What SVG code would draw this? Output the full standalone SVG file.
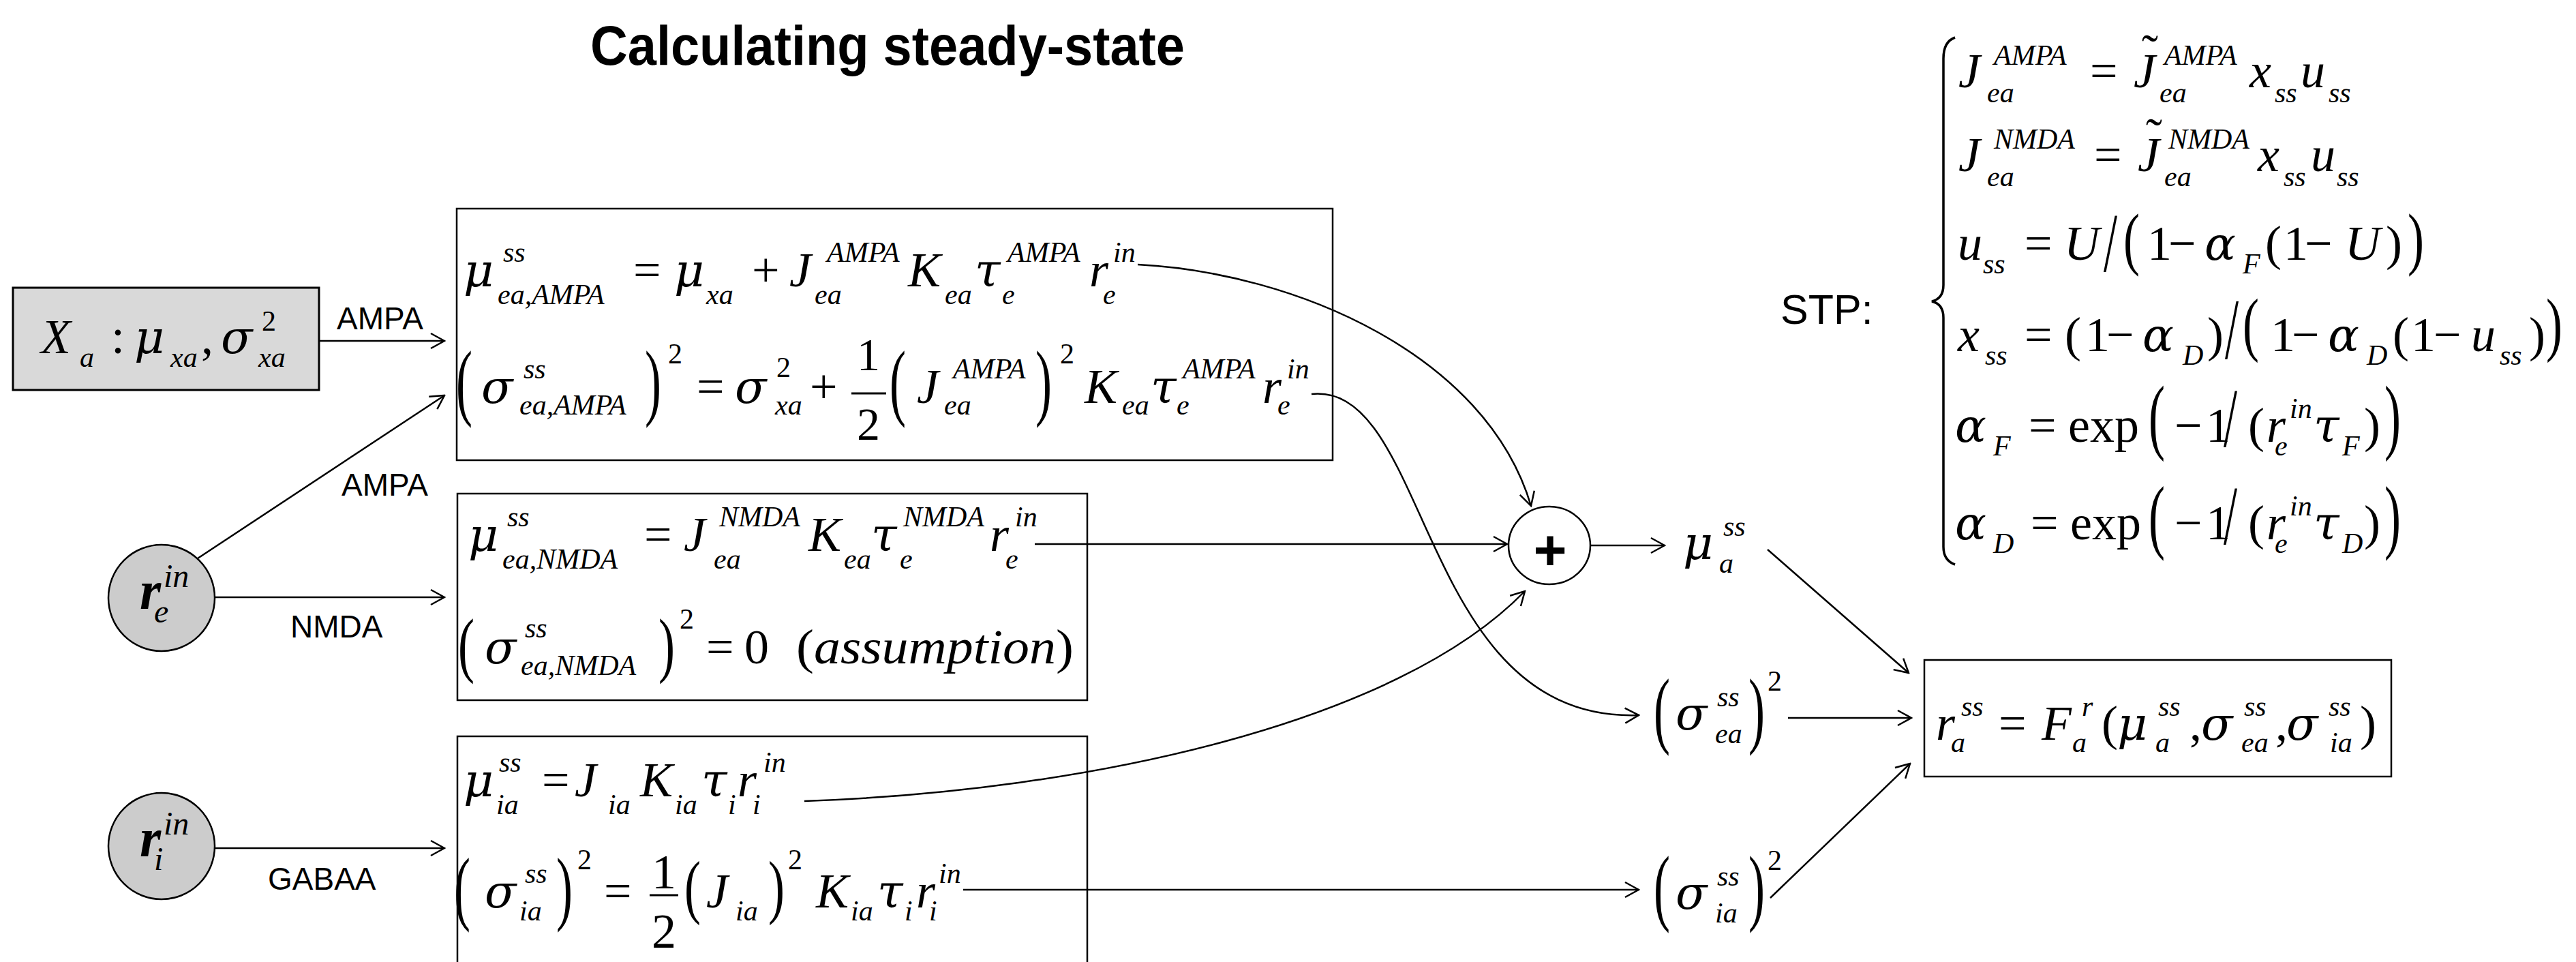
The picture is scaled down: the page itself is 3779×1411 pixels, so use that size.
<svg xmlns="http://www.w3.org/2000/svg" width="3779" height="1411" viewBox="0 0 3779 1411">
<defs>
<style>
.m{font-family:"Liberation Serif","Times New Roman",serif;font-style:italic;font-size:72px;fill:#000}
.s{font-size:42px}
.g{font-family:"DejaVu Serif","Liberation Serif",serif;font-size:68px}
.u{font-style:normal}
.lbl{font-family:"Liberation Sans",Arial,sans-serif;font-size:46px;fill:#000}
.box{fill:#fff;stroke:#000;stroke-width:2.5}
.conn{fill:none;stroke:#000;stroke-width:2.5;marker-end:url(#ah)}
.bar{stroke:#000;stroke-width:3}
</style>
<marker id="ah" markerUnits="userSpaceOnUse" markerWidth="24" markerHeight="26" viewBox="0 0 24 26" refX="22" refY="13" orient="auto">
<path d="M2,2 L22,13 L2,24" fill="none" stroke="#000" stroke-width="2.5"/>
</marker>
</defs>
<rect width="3779" height="1411" fill="#fff"/>

<g id="title">
<text x="866" y="95" font-family="Liberation Sans,Arial,sans-serif" font-weight="bold" font-size="82" textLength="872" lengthAdjust="spacingAndGlyphs">Calculating steady-state</text>
</g>

<g id="xa-box">
<rect x="19" y="422" width="449" height="150" fill="#d9d9d9" stroke="#000" stroke-width="3"/>
<text class="m"><tspan x="60" y="518">X</tspan><tspan class="s" x="117" y="538">a</tspan><tspan class="u" x="163" y="518">:</tspan><tspan class="g" x="197" y="518">μ</tspan><tspan class="s" x="250" y="538">xa</tspan><tspan class="u" x="295" y="518">,</tspan><tspan class="g" x="324" y="518">σ</tspan><tspan class="s u" x="384" y="485">2</tspan><tspan class="s" x="379" y="538">xa</tspan></text>
</g>

<g id="re-node">
<circle cx="237" cy="877" r="78" fill="#cccccc" stroke="#000" stroke-width="2.5"/>
<text class="m"><tspan x="205" y="893" font-weight="bold" font-size="80">r</tspan><tspan x="240" y="861" font-size="48">in</tspan><tspan x="226" y="913" font-size="48">e</tspan></text>
</g>

<g id="ri-node">
<circle cx="237" cy="1241" r="78" fill="#cccccc" stroke="#000" stroke-width="2.5"/>
<text class="m"><tspan x="205" y="1256" font-weight="bold" font-size="80">r</tspan><tspan x="240" y="1224" font-size="48">in</tspan><tspan x="226" y="1276" font-size="48">i</tspan></text>
</g>

<g id="box-ampa">
<rect class="box" x="670" y="306" width="1285" height="369"/>
<text class="m">
<tspan class="g" x="680" y="420">μ</tspan><tspan class="s" x="738" y="384">ss</tspan><tspan class="s" x="730" y="446">ea,AMPA</tspan>
<tspan class="u" x="929" y="420">=</tspan>
<tspan class="g" x="989" y="420">μ</tspan><tspan class="s" x="1036" y="446">xa</tspan>
<tspan class="u" x="1103" y="420">+</tspan>
<tspan x="1158" y="420">J</tspan><tspan class="s" x="1213" y="384">AMPA</tspan><tspan class="s" x="1195" y="446">ea</tspan>
<tspan x="1332" y="420">K</tspan><tspan class="s" x="1386" y="446">ea</tspan>
<tspan class="g" x="1430" y="420">τ</tspan><tspan class="s" x="1478" y="384">AMPA</tspan><tspan class="s" x="1470" y="446">e</tspan>
<tspan x="1598" y="420">r</tspan><tspan class="s" x="1633" y="384">in</tspan><tspan class="s" x="1618" y="446">e</tspan>
</text>
<text class="m">
<tspan class="g" x="706" y="591">σ</tspan><tspan class="s" x="768" y="555">ss</tspan><tspan class="s" x="762" y="608">ea,AMPA</tspan>
<tspan class="s u" x="980" y="533">2</tspan>
<tspan class="u" x="1022" y="591">=</tspan>
<tspan class="g" x="1078" y="591">σ</tspan><tspan class="s u" x="1139" y="553">2</tspan><tspan class="s" x="1137" y="608">xa</tspan>
<tspan class="u" x="1188" y="591">+</tspan>
<tspan class="u" x="1257" y="543" font-size="68">1</tspan><tspan class="u" x="1257" y="645" font-size="68">2</tspan>
<tspan x="1345" y="591">J</tspan><tspan class="s" x="1398" y="555">AMPA</tspan><tspan class="s" x="1385" y="608">ea</tspan>
<tspan class="s u" x="1555" y="533">2</tspan>
<tspan x="1591" y="591">K</tspan><tspan class="s" x="1646" y="608">ea</tspan>
<tspan class="g" x="1688" y="591">τ</tspan><tspan class="s" x="1735" y="555">AMPA</tspan><tspan class="s" x="1726" y="608">e</tspan>
<tspan x="1852" y="591">r</tspan><tspan class="s" x="1888" y="555">in</tspan><tspan class="s" x="1874" y="608">e</tspan>
</text>
<text class="m u" transform="translate(669,601) scale(1,1.73)">(</text>
<text class="m u" transform="translate(946,601) scale(1,1.73)">)</text>
<text class="m u" transform="translate(1305,601) scale(1,1.73)">(</text>
<text class="m u" transform="translate(1519,601) scale(1,1.73)">)</text>
<line class="bar" x1="1249" y1="577" x2="1300" y2="577"/>
</g>

<g id="box-nmda">
<rect class="box" x="671" y="724" width="924" height="303"/>
<text class="m">
<tspan class="g" x="687" y="808">μ</tspan><tspan class="s" x="744" y="772">ss</tspan><tspan class="s" x="737" y="834">ea,NMDA</tspan>
<tspan class="u" x="945" y="808">=</tspan>
<tspan x="1003" y="808">J</tspan><tspan class="s" x="1055" y="772">NMDA</tspan><tspan class="s" x="1047" y="834">ea</tspan>
<tspan x="1186" y="808">K</tspan><tspan class="s" x="1238" y="834">ea</tspan>
<tspan class="g" x="1278" y="808">τ</tspan><tspan class="s" x="1325" y="772">NMDA</tspan><tspan class="s" x="1320" y="834">e</tspan>
<tspan x="1452" y="808">r</tspan><tspan class="s" x="1489" y="772">in</tspan><tspan class="s" x="1475" y="834">e</tspan>
</text>
<text class="m">
<tspan class="g" x="711" y="973">σ</tspan><tspan class="s" x="770" y="935">ss</tspan><tspan class="s" x="764" y="990">ea,NMDA</tspan>
<tspan class="s u" x="997" y="922">2</tspan>
<tspan class="u" x="1036" y="973">=</tspan>
<tspan class="u" x="1092" y="973">0</tspan>
</text>
<text class="m" x="1168" y="973" textLength="407" lengthAdjust="spacingAndGlyphs" font-size="75"><tspan class="u">(</tspan>assumption<tspan class="u">)</tspan></text>
<text class="m u" transform="translate(672,981) scale(1,1.47)">(</text>
<text class="m u" transform="translate(966,981) scale(1,1.47)">)</text>
</g>

<g id="box-gaba">
<rect class="box" x="671" y="1080" width="924" height="400"/>
<text class="m">
<tspan class="g" x="680" y="1168">μ</tspan><tspan class="s" x="732" y="1132">ss</tspan><tspan class="s" x="728" y="1194">ia</tspan>
<tspan class="u" x="795" y="1168">=</tspan>
<tspan x="843" y="1168">J</tspan><tspan class="s" x="892" y="1194">ia</tspan>
<tspan x="939" y="1168">K</tspan><tspan class="s" x="990" y="1194">ia</tspan>
<tspan class="g" x="1029" y="1168">τ</tspan><tspan class="s" x="1068" y="1194">i</tspan>
<tspan x="1082" y="1168">r</tspan><tspan class="s" x="1120" y="1132">in</tspan><tspan class="s" x="1104" y="1194">i</tspan>
</text>
<text class="m">
<tspan class="g" x="711" y="1331">σ</tspan><tspan class="s" x="770" y="1295">ss</tspan><tspan class="s" x="762" y="1350">ia</tspan>
<tspan class="s u" x="847" y="1275">2</tspan>
<tspan class="u" x="886" y="1331">=</tspan>
<tspan class="u" x="956" y="1303">1</tspan><tspan class="u" x="956" y="1390">2</tspan>
<tspan x="1036" y="1331">J</tspan><tspan class="s" x="1079" y="1350">ia</tspan>
<tspan class="s u" x="1156" y="1275">2</tspan>
<tspan x="1197" y="1331">K</tspan><tspan class="s" x="1248" y="1350">ia</tspan>
<tspan class="g" x="1287" y="1331">τ</tspan><tspan class="s" x="1327" y="1350">i</tspan>
<tspan x="1344" y="1331">r</tspan><tspan class="s" x="1377" y="1295">in</tspan><tspan class="s" x="1363" y="1350">i</tspan>
</text>
<text class="m u" transform="translate(666,1342) scale(1,1.68)">(</text>
<text class="m u" transform="translate(816,1342) scale(1,1.68)">)</text>
<text class="m u" transform="translate(1004,1335) scale(1,1.43)">(</text>
<text class="m u" transform="translate(1127,1335) scale(1,1.43)">)</text>
<line class="bar" x1="953" y1="1313" x2="995" y2="1313"/>
</g>

<g id="sum-node">
<ellipse cx="2273" cy="800" rx="60" ry="57" fill="#fff" stroke="#000" stroke-width="2.5"/>
<text x="2274" y="836" text-anchor="middle" font-family="Liberation Sans,Arial,sans-serif" font-weight="bold" font-size="84">+</text>
</g>

<g id="mu-a">
<text class="m"><tspan class="g" x="2469" y="820">μ</tspan><tspan class="s" x="2528" y="786">ss</tspan><tspan class="s" x="2522" y="840">a</tspan></text>
</g>

<g id="sigma-ea">
<text class="m"><tspan class="g" x="2458" y="1070">σ</tspan><tspan class="s" x="2519" y="1036">ss</tspan><tspan class="s" x="2516" y="1090">ea</tspan><tspan class="s u" x="2593" y="1013">2</tspan></text>
<text class="m u" transform="translate(2426,1082) scale(1,1.74)">(</text>
<text class="m u" transform="translate(2565,1082) scale(1,1.74)">)</text>
</g>

<g id="sigma-ia">
<text class="m"><tspan class="g" x="2458" y="1333">σ</tspan><tspan class="s" x="2519" y="1299">ss</tspan><tspan class="s" x="2516" y="1353">ia</tspan><tspan class="s u" x="2593" y="1276">2</tspan></text>
<text class="m u" transform="translate(2426,1342) scale(1,1.73)">(</text>
<text class="m u" transform="translate(2565,1342) scale(1,1.73)">)</text>
</g>

<g id="ra-box">
<rect class="box" x="2823" y="968" width="685" height="171"/>
<text class="m">
<tspan x="2840" y="1085">r</tspan><tspan class="s" x="2877" y="1050">ss</tspan><tspan class="s" x="2862" y="1103">a</tspan>
<tspan class="u" x="2932" y="1085">=</tspan>
<tspan x="2995" y="1085">F</tspan><tspan class="s" x="3054" y="1050">r</tspan><tspan class="s" x="3040" y="1103">a</tspan>
<tspan class="u" x="3083" y="1085">(</tspan>
<tspan class="g" x="3106" y="1085">μ</tspan><tspan class="s" x="3166" y="1050">ss</tspan><tspan class="s" x="3162" y="1103">a</tspan>
<tspan class="u" x="3212" y="1085">,</tspan>
<tspan class="g" x="3229" y="1085">σ</tspan><tspan class="s" x="3292" y="1050">ss</tspan><tspan class="s" x="3288" y="1103">ea</tspan>
<tspan class="u" x="3338" y="1085">,</tspan>
<tspan class="g" x="3354" y="1085">σ</tspan><tspan class="s" x="3416" y="1050">ss</tspan><tspan class="s" x="3418" y="1103">ia</tspan>
<tspan class="u" x="3462" y="1085">)</tspan>
</text>
</g>

<g id="stp">
<text x="2612" y="475" font-family="Liberation Sans,Arial,sans-serif" font-size="61">STP:</text>
<path d="M2868,55 Q2851,61 2851,86 L2851,418 Q2851,438 2834,442 Q2851,446 2851,466 L2851,802 Q2851,822 2868,828" fill="none" stroke="#000" stroke-width="3.5"/>
<text class="m">
<tspan x="2873" y="128">J</tspan><tspan class="s" x="2925" y="95">AMPA</tspan><tspan class="s" x="2915" y="150">ea</tspan>
<tspan class="u" x="3066" y="128">=</tspan>
<tspan x="3130" y="128">J</tspan><tspan class="u" x="3142" y="100">˜</tspan><tspan class="s" x="3175" y="95">AMPA</tspan><tspan class="s" x="3168" y="150">ea</tspan>
<tspan x="3300" y="128">x</tspan><tspan class="s" x="3337" y="150">ss</tspan>
<tspan x="3375" y="128">u</tspan><tspan class="s" x="3416" y="150">ss</tspan>
</text>
<text class="m">
<tspan x="2873" y="251">J</tspan><tspan class="s" x="2925" y="218">NMDA</tspan><tspan class="s" x="2915" y="273">ea</tspan>
<tspan class="u" x="3072" y="251">=</tspan>
<tspan x="3136" y="251">J</tspan><tspan class="u" x="3148" y="223">˜</tspan><tspan class="s" x="3181" y="218">NMDA</tspan><tspan class="s" x="3175" y="273">ea</tspan>
<tspan x="3312" y="251">x</tspan><tspan class="s" x="3350" y="273">ss</tspan>
<tspan x="3390" y="251">u</tspan><tspan class="s" x="3428" y="273">ss</tspan>
</text>
<text class="m">
<tspan x="2872" y="381">u</tspan><tspan class="s" x="2909" y="401">ss</tspan>
<tspan class="u" x="2970" y="381">=</tspan>
<tspan x="3028" y="381">U</tspan>
<tspan class="u" x="3150" y="381">1</tspan><tspan class="u" x="3181" y="381">−</tspan>
<tspan class="g" x="3234" y="381">α</tspan><tspan class="s" x="3290" y="401">F</tspan>
<tspan class="u" x="3323" y="381">(</tspan><tspan class="u" x="3350" y="381">1</tspan><tspan class="u" x="3381" y="381">−</tspan>
<tspan x="3440" y="381">U</tspan><tspan class="u" x="3500" y="381">)</tspan>
</text>
<text class="m u" transform="translate(3086,398) scale(1,1.71)">/</text>
<text class="m u" transform="translate(3115,384) scale(1,1.42)">(</text>
<text class="m u" transform="translate(3532,384) scale(1,1.42)">)</text>
<text class="m">
<tspan x="2872" y="515">x</tspan><tspan class="s" x="2912" y="535">ss</tspan>
<tspan class="u" x="2970" y="515">=</tspan>
<tspan class="u" x="3029" y="515">(</tspan><tspan class="u" x="3059" y="515">1</tspan><tspan class="u" x="3090" y="515">−</tspan>
<tspan class="g" x="3143" y="515">α</tspan><tspan class="s" x="3202" y="535">D</tspan>
<tspan class="u" x="3238" y="515">)</tspan>
<tspan class="u" x="3331" y="515">1</tspan><tspan class="u" x="3362" y="515">−</tspan>
<tspan class="g" x="3415" y="515">α</tspan><tspan class="s" x="3472" y="535">D</tspan>
<tspan class="u" x="3510" y="515">(</tspan><tspan class="u" x="3537" y="515">1</tspan><tspan class="u" x="3570" y="515">−</tspan>
<tspan x="3625" y="515">u</tspan><tspan class="s" x="3667" y="535">ss</tspan>
<tspan class="u" x="3710" y="515">)</tspan>
</text>
<text class="m u" transform="translate(3264,526) scale(1,1.77)">/</text>
<text class="m u" transform="translate(3290,510) scale(1,1.43)">(</text>
<text class="m u" transform="translate(3735,510) scale(1,1.43)">)</text>
<text class="m">
<tspan class="g" x="2868" y="648">α</tspan><tspan class="s" x="2924" y="668">F</tspan>
<tspan class="u" x="2976" y="648">=</tspan>
<tspan class="u" x="3034" y="648">exp</tspan>
<tspan class="u" x="3190" y="648">−</tspan><tspan class="u" x="3236" y="648">1</tspan>
<tspan class="u" x="3298" y="648">(</tspan>
<tspan x="3325" y="648">r</tspan><tspan class="s" x="3359" y="613">in</tspan><tspan class="s" x="3337" y="668">e</tspan>
<tspan class="g" x="3394" y="648">τ</tspan><tspan class="s" x="3436" y="668">F</tspan>
<tspan class="u" x="3468" y="648">)</tspan>
</text>
<text class="m u" transform="translate(3262,655) scale(1,1.71)">/</text>
<text class="m u" transform="translate(3152,651) scale(1,1.71)">(</text>
<text class="m u" transform="translate(3498,651) scale(1,1.71)">)</text>
<text class="m">
<tspan class="g" x="2868" y="791">α</tspan><tspan class="s" x="2924" y="811">D</tspan>
<tspan class="u" x="2979" y="791">=</tspan>
<tspan class="u" x="3037" y="791">exp</tspan>
<tspan class="u" x="3190" y="791">−</tspan><tspan class="u" x="3236" y="791">1</tspan>
<tspan class="u" x="3298" y="791">(</tspan>
<tspan x="3325" y="791">r</tspan><tspan class="s" x="3359" y="756">in</tspan><tspan class="s" x="3337" y="811">e</tspan>
<tspan class="g" x="3394" y="791">τ</tspan><tspan class="s" x="3436" y="811">D</tspan>
<tspan class="u" x="3468" y="791">)</tspan>
</text>
<text class="m u" transform="translate(3262,798) scale(1,1.71)">/</text>
<text class="m u" transform="translate(3152,797) scale(1,1.69)">(</text>
<text class="m u" transform="translate(3498,797) scale(1,1.69)">)</text>
</g>

<g id="connectors">
<line class="conn" x1="468" y1="500" x2="652" y2="500"/>
<line class="conn" x1="290" y1="819" x2="652" y2="580"/>
<line class="conn" x1="315" y1="876" x2="652" y2="876"/>
<line class="conn" x1="315" y1="1244" x2="652" y2="1244"/>
<path class="conn" d="M1669,388 C1900,400 2180,520 2246,742"/>
<path class="conn" d="M1924,578 C2100,560 2080,1060 2404,1049"/>
<path class="conn" d="M1180,1175 C1600,1160 2050,1060 2237,867"/>
<line class="conn" x1="1518" y1="798" x2="2211" y2="798"/>
<line class="conn" x1="2333" y1="800" x2="2442" y2="800"/>
<line class="conn" x1="2593" y1="806" x2="2800" y2="987"/>
<line class="conn" x1="2623" y1="1053" x2="2804" y2="1053"/>
<line class="conn" x1="2597" y1="1317" x2="2802" y2="1120"/>
<line class="conn" x1="1413" y1="1305" x2="2404" y2="1305"/>
<text class="lbl" x="494" y="483">AMPA</text>
<text class="lbl" x="501" y="727">AMPA</text>
<text class="lbl" x="426" y="935">NMDA</text>
<text class="lbl" x="393" y="1305">GABAA</text>
</g>
</svg>
